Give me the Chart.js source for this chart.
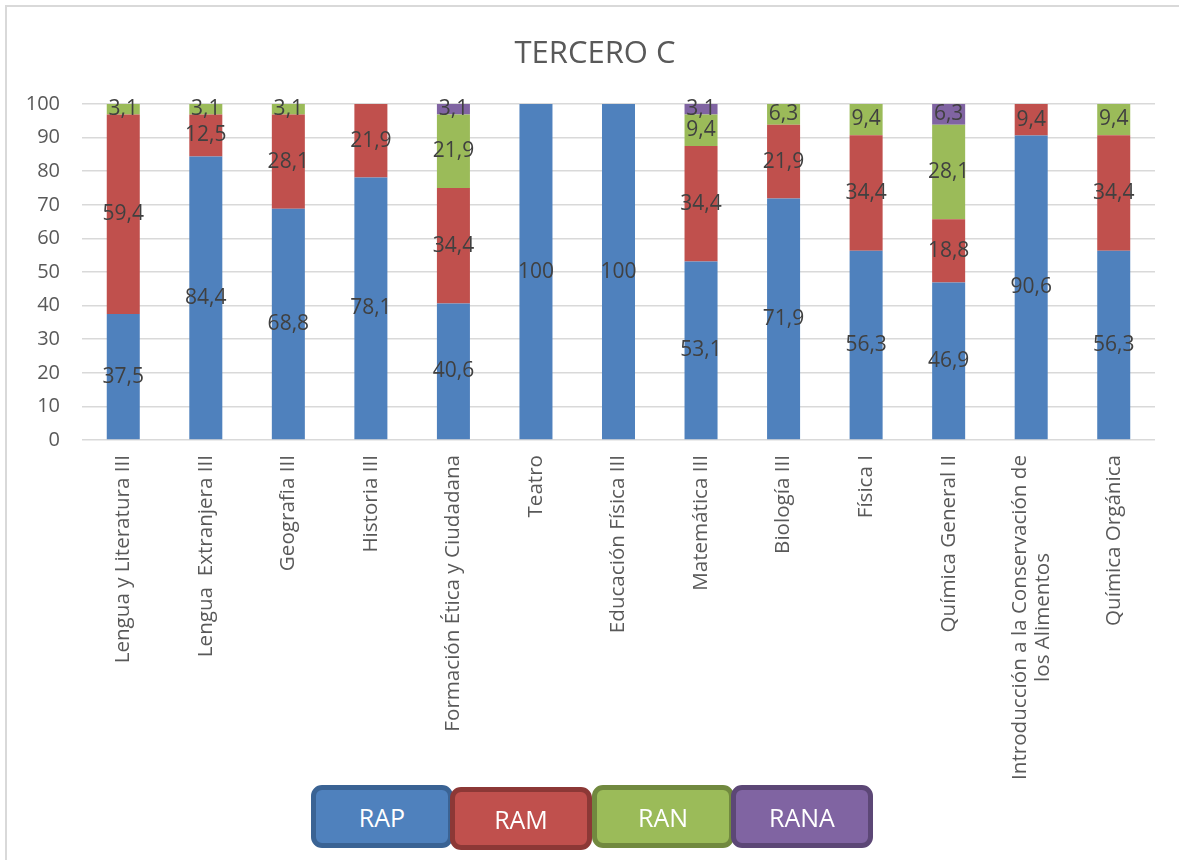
<!DOCTYPE html>
<html>
<head>
<meta charset="utf-8">
<script src="https://cdn.jsdelivr.net/npm/chart.js@4"></script>
<style>
  html, body { margin: 0; padding: 0; background: #fff; overflow: hidden; }
  #wrap { position: relative; width: 1179px; height: 860px; }
  #frame { position: absolute; left: 5px; top: 5px; width: 1200px; height: 900px; border: 2px solid #d9d9d9; box-sizing: border-box; }
  canvas { position: absolute; left: 0; top: 0; }
  #title { position: absolute; left: 0; width: 1190px; top: 31px; text-align: center; color: #595959; font: 31px "Open Sans", sans-serif; line-height: 40px; }
  #legend { position: absolute; left: 311px; top: 785px; height: 63px; }
  .lg { position: absolute; top: 0; width: 142px; height: 63px; box-sizing: border-box; border-radius: 11px; border: 5px solid; color: #fff; font: 25px "Open Sans", sans-serif; display: flex; align-items: center; justify-content: center; }
</style>
</head>
<body>
<div id="wrap">
  <div id="frame"></div>
  <canvas id="c" width="1179" height="860"></canvas>
  <div id="title"></div>
  <div id="legend"></div>
</div>
<script>
const title = 'TERCERO C';
const categories = [
  'Lengua y Literatura III',
  'Lengua  Extranjera III',
  'Geografia III',
  'Historia III',
  'Formación Ética y Ciudadana',
  'Teatro',
  'Educación Física III',
  'Matemática III',
  'Biología III',
  'Física I',
  'Química General II',
  ['Introducción a la Conservación de', 'los Alimentos'],
  'Química Orgánica'
];
const seriesNames = ['RAP', 'RAM', 'RAN', 'RANA'];
const rap  = [37.5, 84.4, 68.8, 78.1, 40.6, 100, 100, 53.1, 71.9, 56.3, 46.9, 90.6, 56.3];
const ram  = [59.4, 12.5, 28.1, 21.9, 34.4, 0, 0, 34.4, 21.9, 34.4, 18.8, 9.4, 34.4];
const ran  = [3.1, 3.1, 3.1, 0, 21.9, 0, 0, 9.4, 6.3, 9.4, 28.1, 0, 9.4];
const rana = [0, 0, 0, 0, 3.1, 0, 0, 3.1, 0, 0, 6.3, 0, 0];
const yTicks = [0, 10, 20, 30, 40, 50, 60, 70, 80, 90, 100];

const fills   = ['#4f81bd', '#c0504d', '#9bbb59', '#8064a2'];
const borders = ['#3a6394', '#8c3836', '#71893f', '#5c4776'];
const FONT = '"Open Sans", sans-serif';

document.getElementById('title').textContent = title;

function fmt(v) {
  return Number.isInteger(v) ? String(v) : v.toFixed(1).replace('.', ',');
}

const labelsPlugin = {
  id: 'labelsPlugin',
  afterDatasetsDraw(chart) {
    const ctx = chart.ctx;
    ctx.save();
    ctx.font = '21px ' + FONT;
    ctx.fillStyle = '#404040';
    ctx.textAlign = 'center';
    ctx.textBaseline = 'middle';
    chart.data.datasets.forEach((ds, i) => {
      const meta = chart.getDatasetMeta(i);
      meta.data.forEach((el, j) => {
        const v = ds.data[j];
        if (!v) return;
        ctx.fillText(fmt(v), el.x, (el.y + el.base) / 2);
      });
    });
    ctx.restore();
  },
  afterDraw(chart) {
    const ctx = chart.ctx;
    const xs = chart.scales.x;
    const top = chart.chartArea.bottom + 15;
    ctx.save();
    ctx.font = '20.6px ' + FONT;
    ctx.fillStyle = '#595959';
    ctx.textBaseline = 'middle';
    categories.forEach((lab, i) => {
      const x = xs.getPixelForValue(i);
      ctx.save();
      ctx.translate(x, top);
      ctx.rotate(-Math.PI / 2);
      if (Array.isArray(lab)) {
        const lh = 23;
        const maxW = Math.max(...lab.map(l => ctx.measureText(l).width));
        ctx.textAlign = 'center';
        lab.forEach((l, k) => {
          ctx.fillText(l, -maxW / 2, (k - (lab.length - 1) / 2) * lh);
        });
      } else {
        ctx.textAlign = 'right';
        ctx.fillText(lab, 0, 0);
      }
      ctx.restore();
    });
    ctx.restore();
  }
};

const data = [rap, ram, ran, rana];
new Chart(document.getElementById('c'), {
  type: 'bar',
  data: {
    labels: categories,
    datasets: seriesNames.map((n, i) => ({
      label: n,
      data: data[i],
      backgroundColor: fills[i],
      borderWidth: 0,
      categoryPercentage: 1,
      barPercentage: 0.4
    }))
  },
  options: {
    responsive: false,
    animation: false,
    devicePixelRatio: 1,
    layout: { padding: { left: 0, right: 24, top: 104, bottom: 0 } },
    plugins: {
      legend: { display: false },
      tooltip: { enabled: false },
      title: { display: false }
    },
    scales: {
      x: {
        stacked: true,
        offset: true,
        grid: { display: false, drawTicks: false },
        border: { display: false },
        ticks: { display: false },
        afterFit(scale) { scale.height = 420; }
      },
      y: {
        stacked: true,
        min: 0,
        max: 100,
        afterBuildTicks(scale) { scale.ticks = yTicks.map(v => ({ value: v })); },
        grid: { color: '#d9d9d9', lineWidth: 1.5, drawTicks: false },
        border: { display: false },
        ticks: {
          color: '#595959',
          padding: 22,
          font: { family: FONT, size: 20 }
        },
        afterFit(scale) { scale.width = 82; }
      }
    }
  },
  plugins: [labelsPlugin]
});

const lg = document.getElementById('legend');
const lefts = [0, 139, 281, 420];
seriesNames.forEach((n, i) => {
  const d = document.createElement('div');
  d.className = 'lg';
  d.style.left = lefts[i] + 'px';
  d.style.background = fills[i];
  d.style.borderColor = borders[i];
  if (i === 1) d.style.top = '2px';
  d.textContent = n;
  lg.appendChild(d);
});
</script>
</body>
</html>
